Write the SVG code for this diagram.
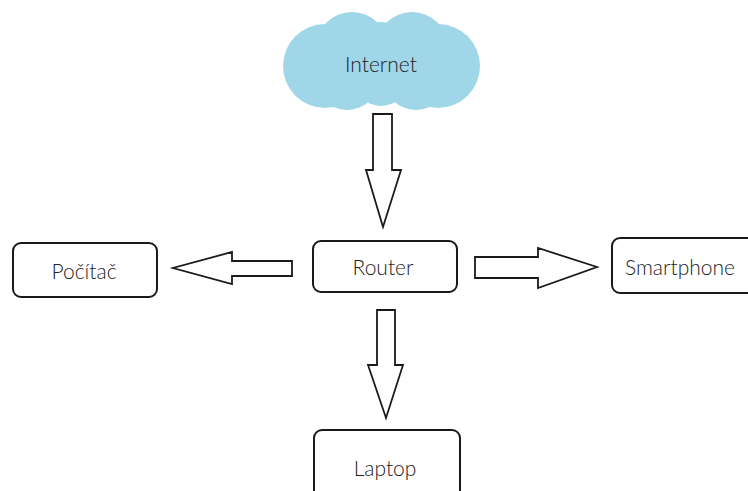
<svg xmlns="http://www.w3.org/2000/svg" width="748" height="491" viewBox="0 0 748 491">
<style>
.box{fill:#fff;stroke:#1a1a1a;stroke-width:2}
.arr{fill:#fff;stroke:#1a1a1a;stroke-width:1.8;stroke-linejoin:miter}
.lbl{font-family:"Lato","Open Sans",sans-serif;font-weight:300;font-size:21px;fill:#222;text-anchor:middle;dominant-baseline:central}
.cl{fill:#9fd7e8}
</style>
<rect width="748" height="491" fill="#fff"/>
<g id="internet">
<circle class="cl" cx="325" cy="66" r="42"/>
<circle class="cl" cx="352" cy="48" r="36"/>
<circle class="cl" cx="412" cy="48" r="36"/>
<circle class="cl" cx="438" cy="66" r="42"/>
<circle class="cl" cx="347" cy="78" r="32"/>
<circle class="cl" cx="416" cy="78" r="32"/>
<circle class="cl" cx="381" cy="62" r="40"/>
<circle class="cl" cx="381" cy="78" r="28"/>
<text class="lbl" x="381" y="63">Internet</text>
</g>
<g id="router">
<rect class="box" x="313" y="241" width="144" height="51" rx="8"/>
<text class="lbl" x="383" y="266">Router</text>
</g>
<g id="pocitac">
<rect class="box" x="13" y="243" width="144" height="54" rx="8"/>
<text class="lbl" x="84" y="270">Počítač</text>
</g>
<g id="smartphone">
<rect class="box" x="612" y="238" width="150" height="55" rx="8"/>
<text class="lbl" x="680" y="266">Smartphone</text>
</g>
<g id="laptop">
<rect class="box" x="314" y="430" width="146" height="80" rx="8"/>
<text class="lbl" x="385" y="467">Laptop</text>
</g>
<g id="connectors">
<polygon class="arr" points="373,114 392,114 392,170 401,170 383,227 366,170 373,170"/>
<polygon class="arr" points="292,261 232,261 232,252 173,268 232,284 232,276 292,276"/>
<polygon class="arr" points="475,257 538,257 538,248 597,267 538,288 538,278 475,278"/>
<polygon class="arr" points="377,310 395,310 395,365 403,365 386,418 368,365 377,365"/>
</g>
</svg>
